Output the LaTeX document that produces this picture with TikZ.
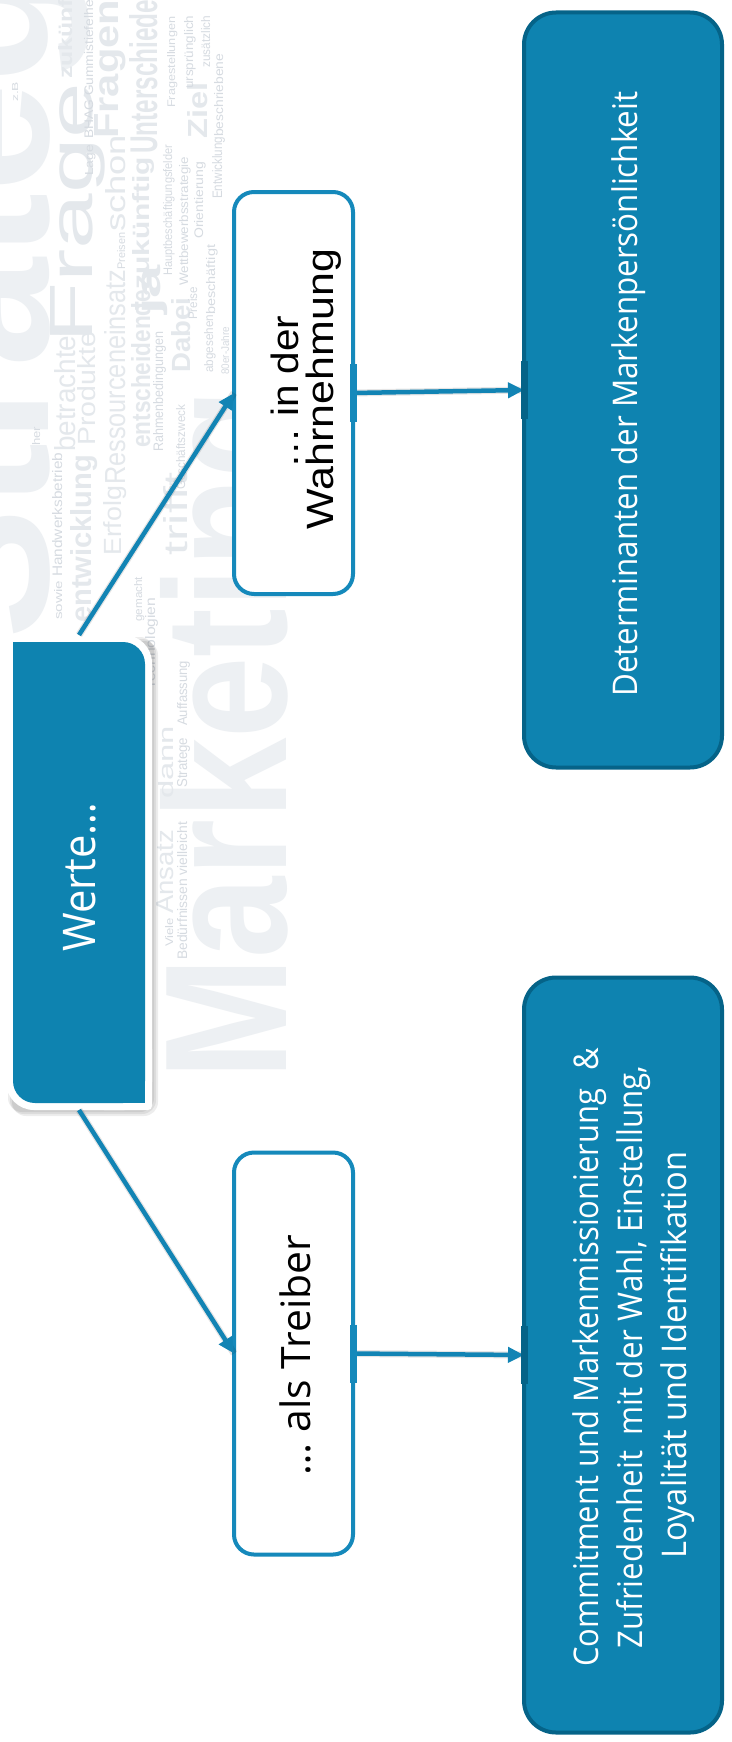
\documentclass[tikz,border=0pt]{standalone}
\usepackage{fontspec}
\usepackage{graphicx}
\setmainfont{Open Sans}
\newfontfamily\osfont{Open Sans}
\newfontfamily\lsfont{Liberation Sans}
\usetikzlibrary{arrows.meta}
\definecolor{mainblue}{RGB}{14,131,176}
\definecolor{darkblue}{RGB}{5,99,136}
\definecolor{lineblue}{RGB}{21,137,187}
\definecolor{arrowblue}{RGB}{18,132,180}
\definecolor{wcA}{RGB}{237,240,243}
\definecolor{wcB}{RGB}{228,232,236}
\definecolor{wcC}{RGB}{214,219,225}
\newcounter{wcn}
\newcommand{\wc}[6]{\stepcounter{wcn}\node[wcword, text=#1] (wc\arabic{wcn}) at (#2,#3) {\resizebox{#4pt}{#5pt}{#6}};}
\begin{document}
\begin{tikzpicture}[x=1pt,y=-1pt,
  wcword/.style={rotate=90, anchor=base west, inner sep=0pt, font=\lsfont},
  lightbox/.style={draw=lineblue, line width=4pt, fill=white, rounded corners=20pt,
    minimum width=119pt, minimum height=402pt, inner sep=0pt, outer sep=0pt},
  bluebox/.style={draw=darkblue, line width=4pt, fill=mainblue, rounded corners=32pt,
    minimum width=198pt, minimum height=755pt, inner sep=0pt, outer sep=0pt},
  conn/.style={draw=arrowblue, line width=4.5pt, -{Triangle[length=16pt,width=15pt]}},
  connshadow/.style={draw=black, opacity=0.10, line width=7pt, xshift=2pt, yshift=-3pt},
  gluelight/.style={draw=lineblue, line width=7pt},
  gluedark/.style={draw=darkblue, line width=7pt},
  rtext/.style={rotate=90, anchor=base, inner sep=0pt}
]
\useasboundingbox (0,0) rectangle (731,1742);
\fill[white] (0,0) rectangle (731,1742);

% background word cloud
\begin{scope}
\clip (0,0) rectangle (731,1742);
\wc{wcA}{48}{640}{839}{140}{\textbf{Strategie}}
\wc{wcA}{286}{1080}{690}{126}{\textbf{Marketing}}
\wc{wcB}{92}{344}{261}{42}{Frage}
\wc{wcB}{118}{139}{139}{24}{\textbf{Fragen}}
\wc{wcB}{157}{154}{154}{28}{\textbf{Unterschiede}}
\wc{wcB}{125}{485}{215}{21}{Ressourceneinsatz}
\wc{wcB}{125}{232}{97}{20}{schon}
\wc{wcB}{121}{556}{70}{18}{Erfolg}
\wc{wcB}{150}{448}{158}{19}{\textbf{entscheidende}}
\wc{wcB}{149}{290}{133}{17}{\textbf{zukünftig}}
\wc{wcB}{75}{452}{124}{21}{betrachtet}
\wc{wcB}{95}{446}{114}{18}{Produkte}
\wc{wcB}{91}{623}{168}{21}{\textbf{entwicklung}}
\wc{wcB}{160}{315}{50}{25}{\textbf{ja}}
\wc{wcB}{190}{373}{75}{19}{\textbf{Dabei}}
\wc{wcB}{187}{556}{83}{24}{trifft}
\wc{wcB}{207}{139}{56}{20}{\textbf{Ziel}}
\wc{wcB}{173}{799}{73}{15}{dann}
\wc{wcB}{173}{914}{84}{17}{Ansatz}
\wc{wcB}{72}{79}{110}{14}{\textbf{zukünftig}}
\wc{wcC}{18}{102}{20}{6}{z.B}
\wc{wcC}{40}{446}{19}{8}{her}
\wc{wcC}{62}{577}{124}{10}{Handwerksbetrieb}
\wc{wcC}{62}{620}{39}{8}{sowie}
\wc{wcC}{93}{176}{31}{8}{Lage}
\wc{wcC}{93}{139}{180}{9}{BHAG Gummistiefelhersteller}
\wc{wcC}{125}{270}{37}{8}{Preisen}
\wc{wcC}{142}{622}{45}{8}{gemacht}
\wc{wcC}{155}{690}{92}{10}{Technologien}
\wc{wcC}{163}{452}{120}{10}{Rahmenbedingungen}
\wc{wcC}{172}{276}{131}{9}{Hauptbeschäftigungsfelder}
\wc{wcC}{175}{108}{91}{8}{Fragestellungen}
\wc{wcC}{185}{490}{85}{9}{Geschäftszweck}
\wc{wcC}{188}{286}{129}{9}{Wettbewerbsstrategie}
\wc{wcC}{193}{89}{73}{9}{ursprünglich}
\wc{wcC}{197}{320}{33}{9}{Preise}
\wc{wcC}{203}{239}{77}{9}{Orientierung}
\wc{wcC}{210}{68}{52}{9}{zusätzlich}
\wc{wcC}{213}{373}{58}{9}{abgesehen}
\wc{wcC}{215}{315}{70}{9}{beschäftigt}
\wc{wcC}{222}{199}{62}{10}{Entwicklung}
\wc{wcC}{223}{137}{83}{9}{beschriebene}
\wc{wcC}{229}{375}{48}{8}{80er-Jahre}
\wc{wcC}{187}{726}{65}{10}{Auffassung}
\wc{wcC}{187}{788}{50}{10}{Stratege}
\wc{wcC}{173}{947}{29}{8}{Viele}
\wc{wcC}{187}{960}{138}{10}{Bedürfnissen vielleicht}
\end{scope}

% nodes
\node[minimum width=146pt, minimum height=475pt, inner sep=0pt, outer sep=0pt] (werte) at (79,872.5) {};
\node[lightbox] (wahr) at (293.5,393) {};
\node[lightbox] (treib) at (293.5,1353.5) {};
\node[bluebox] (det) at (623,390) {};
\node[bluebox] (com) at (623,1355) {};

% Werte box: shadow, white frame, blue body
\foreach \o in {2,4,6}
  \fill[black, opacity=0.07, rounded corners=14pt] (6+\o,635+\o) rectangle (152+\o,1110+\o);
\fill[white, rounded corners=28pt] (6,635) rectangle (152,1110);
\fill[white, rounded corners=4pt] (6,635) rectangle (60,700);
\fill[white, rounded corners=4pt] (100,1045) rectangle (152,1110);
\fill[mainblue, rounded corners=22pt] (13,642) rectangle (145,1103);
\fill[mainblue] (13,642) rectangle (60,700);
\fill[mainblue] (100,1045) rectangle (145,1103);

% connectors
\draw[connshadow] (werte.north) -- (wahr.west);
\draw[connshadow] (werte.south) -- (treib.west);
\draw[connshadow] (wahr.east) -- (det.west);
\draw[connshadow] (treib.east) -- (com.west);
\draw[conn] (werte.north) -- (wahr.west);
\draw[conn] (werte.south) -- (treib.west);
\draw[conn] (wahr.east) -- (det.west);
\draw[conn] (treib.east) -- (com.west);

% glue marks
\draw[gluelight] ([yshift=29pt]wahr.east) -- ([yshift=-29pt]wahr.east);
\draw[gluelight] ([yshift=29pt]treib.east) -- ([yshift=-29pt]treib.east);
\draw[gluedark] ([yshift=29pt]det.west) -- ([yshift=-29pt]det.west);
\draw[gluedark] ([yshift=29pt]com.west) -- ([yshift=-29pt]com.west);

% texts
\node[rtext, text=white, font=\osfont\fontsize{45}{54}\selectfont] (wertetxt) at (95,877) {\resizebox{149pt}{\height}{Werte…}};
\node[rtext, text=black, font=\lsfont\fontsize{38}{44}\selectfont] (wahr1) at (298,392) {\resizebox{153pt}{\height}{… in der}};
\node[rtext, text=black, font=\lsfont\fontsize{38}{44}\selectfont] (wahr2) at (333,389) {\resizebox{280pt}{\height}{Wahrnehmung}};
\node[rtext, text=black, font=\osfont\fontsize{40.5}{48}\selectfont] (treibtxt) at (310,1355) {\resizebox{240pt}{\height}{… als Treiber}};
\node[rtext, text=white, font=\osfont\fontsize{34}{42}\selectfont] (dettxt) at (637,394) {\resizebox{605pt}{\height}{Determinanten der Markenpersönlichkeit}};
\node[rtext, text=white, font=\osfont\fontsize{34}{42}\selectfont] (com1) at (598,1357) {\resizebox{619pt}{\height}{Commitment und Markenmissionierung\hspace{0.6em}\&}};
\node[rtext, text=white, font=\osfont\fontsize{34}{42}\selectfont] (com2) at (642,1357) {\resizebox{583pt}{\height}{Zufriedenheit\hspace{0.5em}mit der Wahl, Einstellung,}};
\node[rtext, text=white, font=\osfont\fontsize{34}{42}\selectfont] (com3) at (686,1355) {\resizebox{407pt}{\height}{Loyalität und Identifikation}};
\end{tikzpicture}
\end{document}
